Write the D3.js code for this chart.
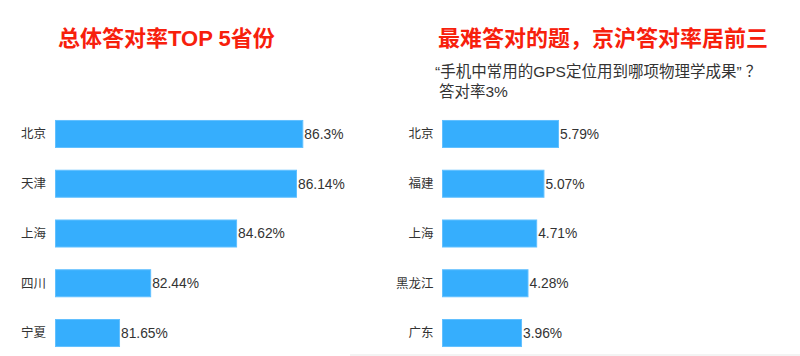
<!DOCTYPE html>
<html><head><meta charset="utf-8">
<script src="https://cdn.jsdelivr.net/npm/d3@7/dist/d3.min.js"></script>
<style>
html,body{margin:0;padding:0;background:#fff;}
svg{display:block;font-family:"Liberation Sans","Noto Sans CJK SC",sans-serif;}
</style></head>
<body><svg id="c" width="800" height="356"></svg>
<script>
const leftCategories = ["北京","天津","上海","四川","宁夏"];
const leftValues = [86.3, 86.14, 84.62, 82.44, 81.65];
const leftLabels = ["86.3%","86.14%","84.62%","82.44%","81.65%"];
const rightCategories = ["北京","福建","上海","黑龙江","广东"];
const rightValues = [5.79, 5.07, 4.71, 4.28, 3.96];
const rightLabels = ["5.79%","5.07%","4.71%","4.28%","3.96%"];
const leftTitle = "总体答对率TOP 5省份";
const rightTitle = "最难答对的题，京沪答对率居前三";
const subtitleLines = ["“手机中常用的GPS定位用到哪项物理学成果” ？","答对率3%"];

const svg = d3.select("#c");
const barColor = "#36aefd", barStroke = "#62c0ff", red = "#f7200c", text = "#333";

svg.append("rect").attr("x",350).attr("y",354).attr("width",450).attr("height",2).attr("fill","#f3f3f3");

function panel(cats, vals, labels, x0, domain, rangeEnd, labelX) {
  const y = d3.scaleBand().domain(cats).range([109.1, 357.9]).paddingInner(0.437).paddingOuter(0.2185);
  const x = d3.scaleLinear().domain(domain).range([x0, rangeEnd]);
  const g = svg.append("g");
  g.selectAll("rect.bar").data(vals).join("rect").attr("class","bar")
    .attr("x", x(domain[0])+0.5).attr("y",(d,i)=>y(cats[i])+0.5)
    .attr("width",d=>x(d)-x(domain[0])-1).attr("height",y.bandwidth()-1)
    .attr("fill",barColor).attr("stroke",barStroke).attr("stroke-width",1);
  g.selectAll("text.val").data(vals).join("text").attr("class","val")
    .attr("x",d=>x(d)+1).attr("y",(d,i)=>y(cats[i])+y.bandwidth()/2).attr("dy","0.36em")
    .attr("font-size",13.8).attr("fill",text).text((d,i)=>labels[i]);
  const ax = d3.axisLeft(y).tickSize(0).tickPadding(0);
  const a = svg.append("g").attr("transform",`translate(${labelX},0)`).call(ax);
  a.select(".domain").remove();
  a.selectAll("text").attr("font-size",12.5).attr("fill",text).attr("font-family","Noto Sans CJK SC, sans-serif").attr("dy","0.34em");
}
panel(leftCategories, leftValues, leftLabels, 55, [80, 86.3], 303.3, 46);
panel(rightCategories, rightValues, rightLabels, 442, [0, 5.79], 559, 433.5);

svg.append("text").attr("x",58).attr("y",46).attr("font-size",22).attr("font-weight","bold")
  .attr("fill",red).attr("font-family","Liberation Sans, Noto Sans CJK SC, sans-serif").text(leftTitle);
svg.append("text").attr("x",438).attr("y",46).attr("font-size",22).attr("font-weight","bold")
  .attr("fill",red).attr("font-family","Noto Sans CJK SC, sans-serif").text(rightTitle);
svg.append("text").attr("x",435).attr("y",77).attr("font-size",15.5).attr("fill",text).text(subtitleLines[0]);
svg.append("text").attr("x",439).attr("y",97).attr("font-size",15.5).attr("fill",text).text(subtitleLines[1]);
</script></body></html>
